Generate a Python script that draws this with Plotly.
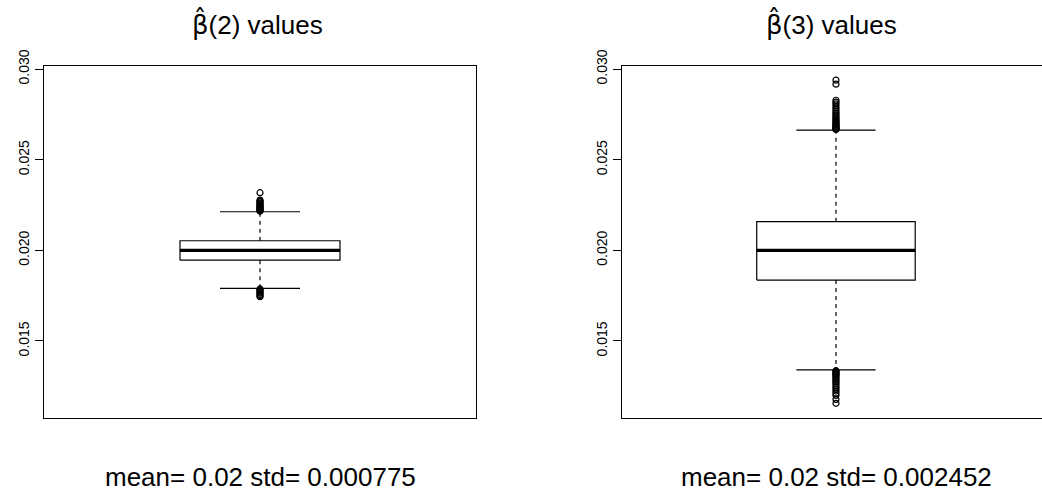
import plotly.graph_objects as go

# ---- data ----
panel_titles = ['<span style="font-family:DejaVu Sans">β̂</span>(2) values',
                '<span style="font-family:DejaVu Sans">β̂</span>(3) values']
panel_subs = ["mean= 0.02 std= 0.000775", "mean= 0.02 std= 0.002452"]
y_ticks = [0.015, 0.020, 0.025, 0.030]
y_tick_labels = ["0.015", "0.020", "0.025", "0.030"]

q1 = [0.01946, 0.01836]
median = [0.02000, 0.02000]
q3 = [0.02053, 0.02158]
lower_whisker = [0.01790, 0.01340]
upper_whisker = [0.02213, 0.02663]

outliers_b2 = [0.02216, 0.02220, 0.02224, 0.02228, 0.02232, 0.02236, 0.02240,
               0.02245, 0.02250, 0.02255, 0.02261, 0.02267, 0.02272, 0.02277,
               0.02318,
               0.01787, 0.01782, 0.01776, 0.01770, 0.01764, 0.01757, 0.01750,
               0.01744]
outliers_b3 = [0.02667, 0.02670, 0.02674, 0.02678, 0.02682, 0.02686, 0.02690,
               0.02695, 0.02700, 0.02706, 0.02712, 0.02718, 0.02725, 0.02732,
               0.02740, 0.02748, 0.02756, 0.02765, 0.02775, 0.02785, 0.02796,
               0.02808, 0.02818, 0.02828, 0.02917, 0.02939,
               0.01336, 0.01332, 0.01327, 0.01322, 0.01317, 0.01311, 0.01305,
               0.01298, 0.01290, 0.01282, 0.01274, 0.01265, 0.01255, 0.01245,
               0.01235, 0.01224, 0.01212, 0.01200, 0.01178, 0.01156]
outliers = [outliers_b2, outliers_b3]

# ---- style / geometry ----
W, H = 1042, 492
FONT = "Liberation Sans, Arial, sans-serif"
center = 1.0
box_half = 0.2
cap_half = 0.1
y_range = [0.01075, 0.03017]
x_ranges = [[0.46, 1.54], [0.46, 1.52]]
x_domains = [[44 / W, 476 / W], [622 / W, 1.0]]
y_domain = [1 - 418 / H, 1 - 66 / H]

fig = go.Figure()

for i in range(2):
    xa = "x" if i == 0 else "x2"
    ya = "y" if i == 0 else "y2"
    # box
    fig.add_trace(go.Scatter(
        x=[center - box_half, center + box_half, center + box_half, center - box_half, center - box_half],
        y=[q1[i], q1[i], q3[i], q3[i], q1[i]],
        mode="lines", line=dict(color="black", width=1.2),
        xaxis=xa, yaxis=ya, showlegend=False, hoverinfo="skip"))
    # median
    fig.add_trace(go.Scatter(
        x=[center - box_half, center + box_half], y=[median[i], median[i]],
        mode="lines", line=dict(color="black", width=3.2),
        xaxis=xa, yaxis=ya, showlegend=False, hoverinfo="skip"))
    # whiskers (dashed)
    for a, b in [(q3[i], upper_whisker[i]), (q1[i], lower_whisker[i])]:
        fig.add_trace(go.Scatter(
            x=[center, center], y=[a, b],
            mode="lines", line=dict(color="black", width=1.2, dash="4px,4px"),
            xaxis=xa, yaxis=ya, showlegend=False, hoverinfo="skip"))
    # caps
    for v in [upper_whisker[i], lower_whisker[i]]:
        fig.add_trace(go.Scatter(
            x=[center - cap_half, center + cap_half], y=[v, v],
            mode="lines", line=dict(color="black", width=1.2),
            xaxis=xa, yaxis=ya, showlegend=False, hoverinfo="skip"))
    # outliers
    fig.add_trace(go.Scatter(
        x=[center] * len(outliers[i]), y=outliers[i],
        mode="markers",
        marker=dict(symbol="circle-open", size=6, color="black", line=dict(width=1.2, color="black")),
        xaxis=xa, yaxis=ya, showlegend=False, hoverinfo="skip"))

axis_common = dict(showgrid=False, zeroline=False, showline=True, linecolor="black",
                   linewidth=1.2, automargin=False)
yaxis_common = dict(domain=y_domain, range=y_range, tickvals=y_ticks, ticktext=y_tick_labels,
                    ticks="outside", ticklen=8, tickwidth=1.2, tickcolor="black", tickangle=-90,
                    tickfont=dict(size=14, family=FONT))

fig.update_layout(
    width=W, height=H,
    margin=dict(l=0, r=0, t=0, b=0),
    paper_bgcolor="white", plot_bgcolor="white",
    font=dict(family=FONT, color="black"),
    xaxis=dict(domain=x_domains[0], range=x_ranges[0], showticklabels=False, ticks="",
               mirror=True, anchor="y", **axis_common),
    yaxis=dict(mirror=True, anchor="x", **yaxis_common, **axis_common),
    xaxis2=dict(domain=x_domains[1], range=x_ranges[1], showticklabels=False, ticks="",
                mirror=True, anchor="y2", **axis_common),
    yaxis2=dict(mirror=False, anchor="x2", **yaxis_common, **axis_common),
)

title_centers = [257 / W, 831 / W]
sub_centers = [260 / W, 836 / W]
for i in range(2):
    fig.add_annotation(text=panel_titles[i], x=title_centers[i], y=1 - 23 / H,
                       xref="paper", yref="paper", showarrow=False,
                       xanchor="center", yanchor="middle", font=dict(size=26, family=FONT))
    fig.add_annotation(text=panel_subs[i], x=sub_centers[i], y=1 - 477 / H,
                       xref="paper", yref="paper", showarrow=False,
                       xanchor="center", yanchor="middle", font=dict(size=26, family=FONT))

fig.write_html("out.html")
